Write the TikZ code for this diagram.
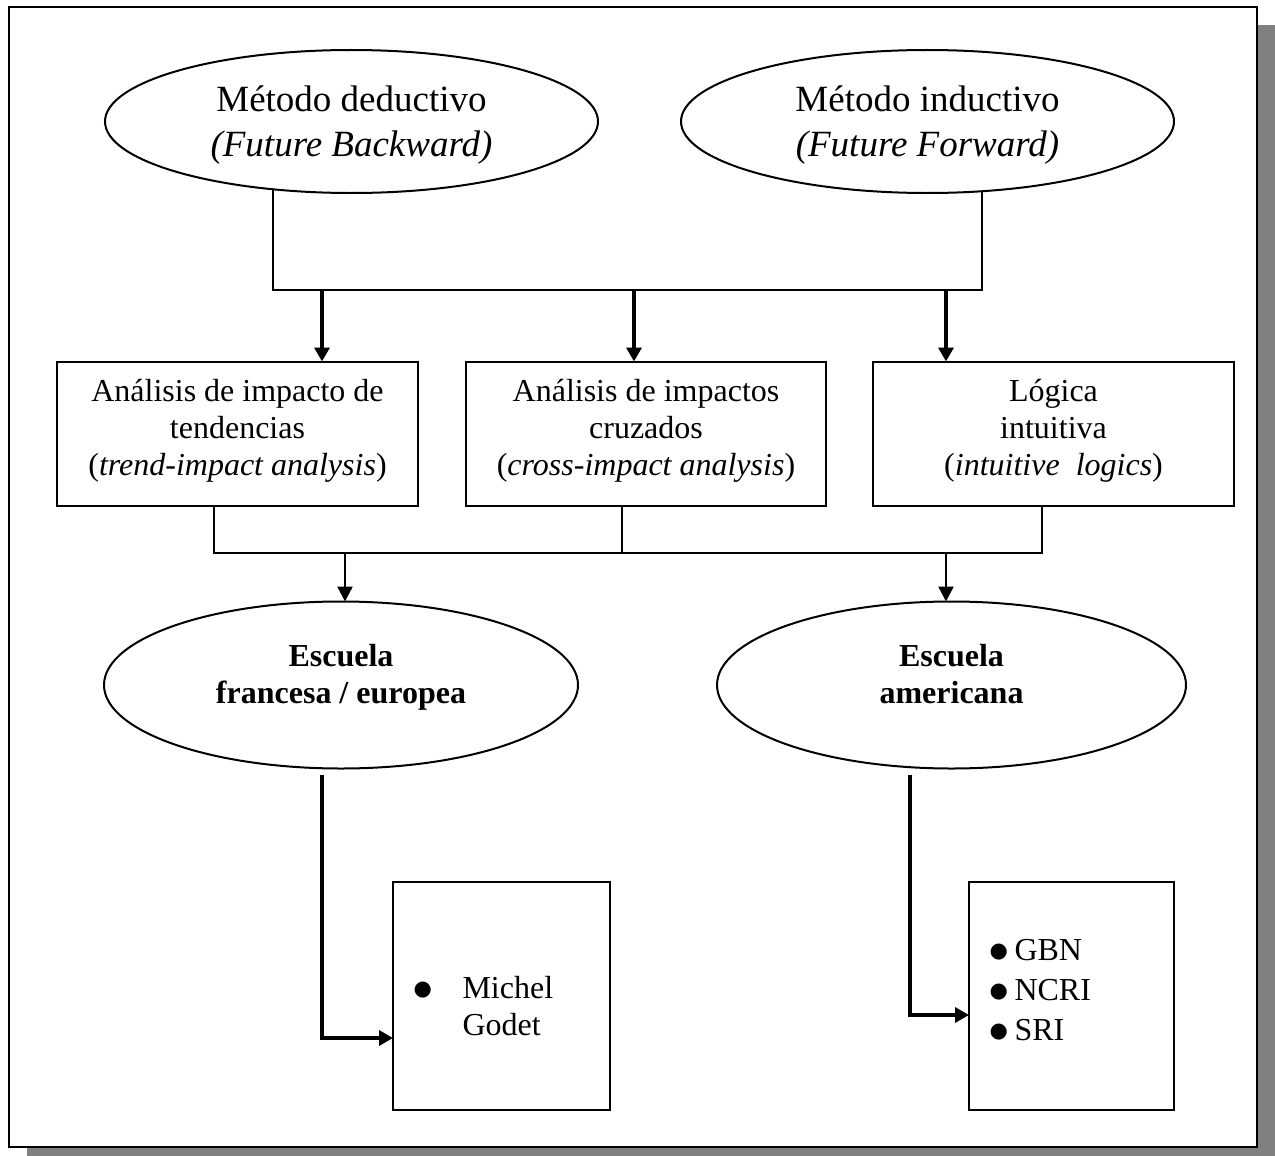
\documentclass[tikz,border=0pt]{standalone}
\usepackage{fontspec}
\setmainfont{Liberation Serif}
\newfontfamily\symfont{DejaVu Sans}
\usetikzlibrary{shapes.geometric,arrows.meta,backgrounds,calc}

% list bullet from a symbol font
\newcommand{\bigbul}{{\fontsize{21}{21}\selectfont\symfont\raisebox{2.5pt}{●}}}

\begin{document}
\lineskiplimit=-20pt
\begin{tikzpicture}[x=1pt,y=-1pt,
  oval/.style={draw, ellipse, line width=2pt, fill=white, inner sep=0pt, outer sep=0pt},
  boxnode/.style={draw, rectangle, line width=2pt, fill=white, inner sep=0pt, outer sep=0pt},
  bigtext/.style={font=\fontsize{37}{45}\selectfont, align=center, inner sep=0pt},
  boxtext/.style={font=\fontsize{32}{37}\selectfont, align=center, inner sep=0pt},
  schooltext/.style={font=\fontsize{32}{37}\selectfont\bfseries, align=center, inner sep=0pt},
  listtext/.style={inner sep=0pt, anchor=base west},
  link/.style={line width=2pt},
  midarrow/.style={line width=2.5pt, -{Triangle[length=15pt,width=15pt]}},
  thickarrow/.style={line width=3.5pt, -{Triangle[length=14pt,width=15pt]}},
]
\useasboundingbox (0,0) rectangle (1275,1156);

% methods
\node[oval, minimum width=493pt, minimum height=143pt] (e1) at (351.5,121.5) {};
\node[bigtext] (e1t) at ($(e1.center)+(0,4)$) {Método deductivo\\\textit{(Future Backward)}};
\node[oval, minimum width=493pt, minimum height=143pt] (e2) at (927.5,121.5) {};
\node[bigtext] (e2t) at ($(e2.center)+(0,4)$) {Método inductivo\\\textit{(Future Forward)}};

% techniques
\node[boxnode, minimum width=361pt, minimum height=144pt] (b1) at (237.5,433.5) {};
\node[boxtext] (b1t) at (237.5,431) {Análisis de impacto de\\tendencias\\(\textit{trend-impact analysis})};
\node[boxnode, minimum width=360pt, minimum height=144pt] (b2) at (646,433.5) {};
\node[boxtext] (b2t) at (646,431) {Análisis de impactos\\cruzados\\(\textit{cross-impact analysis})};
\node[boxnode, minimum width=361pt, minimum height=144pt] (b3) at (1053.5,433.5) {};
\node[boxtext] (b3t) at (1053.5,431) {Lógica\\intuitiva\\(\textit{intuitive~ logics})};

% schools
\node[oval, minimum width=474pt, minimum height=167pt] (e3) at (341,685) {};
\node[schooltext] (e3t) at (341,677) {Escuela\\francesa / europea};
\node[oval, minimum width=469pt, minimum height=167pt] (e4) at (951.5,685) {};
\node[schooltext] (e4t) at (951.5,674.5) {Escuela\\americana};

% representatives
\node[boxnode, minimum width=217pt, minimum height=228pt] (m1) at (501.5,996) {};
\node[listtext] (m1t) at (413.5,998) {\fontsize{32}{37}\selectfont
  \begin{tabular}[t]{@{}l@{\hspace{30.5pt}}l@{}}\bigbul & Michel\\ & Godet\end{tabular}};
\node[boxnode, minimum width=205pt, minimum height=228pt] (g1) at (1071.5,996) {};
\node[listtext] (g1t) at (989.5,960) {\fontsize{32}{40}\selectfont
  \begin{tabular}[t]{@{}l@{\hspace{6.5pt}}l@{}}\bigbul & GBN\\\bigbul & NCRI\\\bigbul & SRI\end{tabular}};

\begin{scope}[on background layer]
  % page frame with drop shadow
  \fill[black!50] (27,25) rectangle (1275,1156);
  \draw[line width=2pt, fill=white] (9,7) rectangle (1257,1147);

  % methods to techniques
  \coordinate (j1) at (322,290);
  \coordinate (j2) at (634,290);
  \coordinate (j3) at (946,290);
  \draw[link] ($(e1.center)+(-78.5,0)$) |- (j2) -| ($(e2.center)+(54.5,0)$);
  \draw[thickarrow] (j1) -- (j1 |- b1.north);
  \draw[thickarrow] (j2) -- (j2 |- b2.north);
  \draw[thickarrow] (j3) -- (j3 |- b3.north);

  % techniques to schools
  \coordinate (k1) at (214,553);
  \coordinate (k2) at (622,553);
  \coordinate (k3) at (1042,553);
  \draw[link] (k1 |- b1.south) -- (k1) -- (k3) -- (k3 |- b3.south);
  \draw[link] (k2 |- b2.south) -- (k2);
  \coordinate (a3) at (345,553);
  \coordinate (a4) at (946,553);
  \draw[midarrow] (a3) -- (a3 |- e3.north);
  \draw[midarrow] (a4) -- (a4 |- e4.north);

  % schools to representatives
  \coordinate (l3) at ($(e3.south)+(-19,6.5)$);
  \coordinate (l4) at ($(e4.south)+(-41.5,6.5)$);
  \draw[thickarrow] (l3) |- ($(m1.west)+(0,42)$);
  \draw[thickarrow] (l4) |- ($(g1.west)+(0,19)$);
\end{scope}
\end{tikzpicture}
\end{document}
